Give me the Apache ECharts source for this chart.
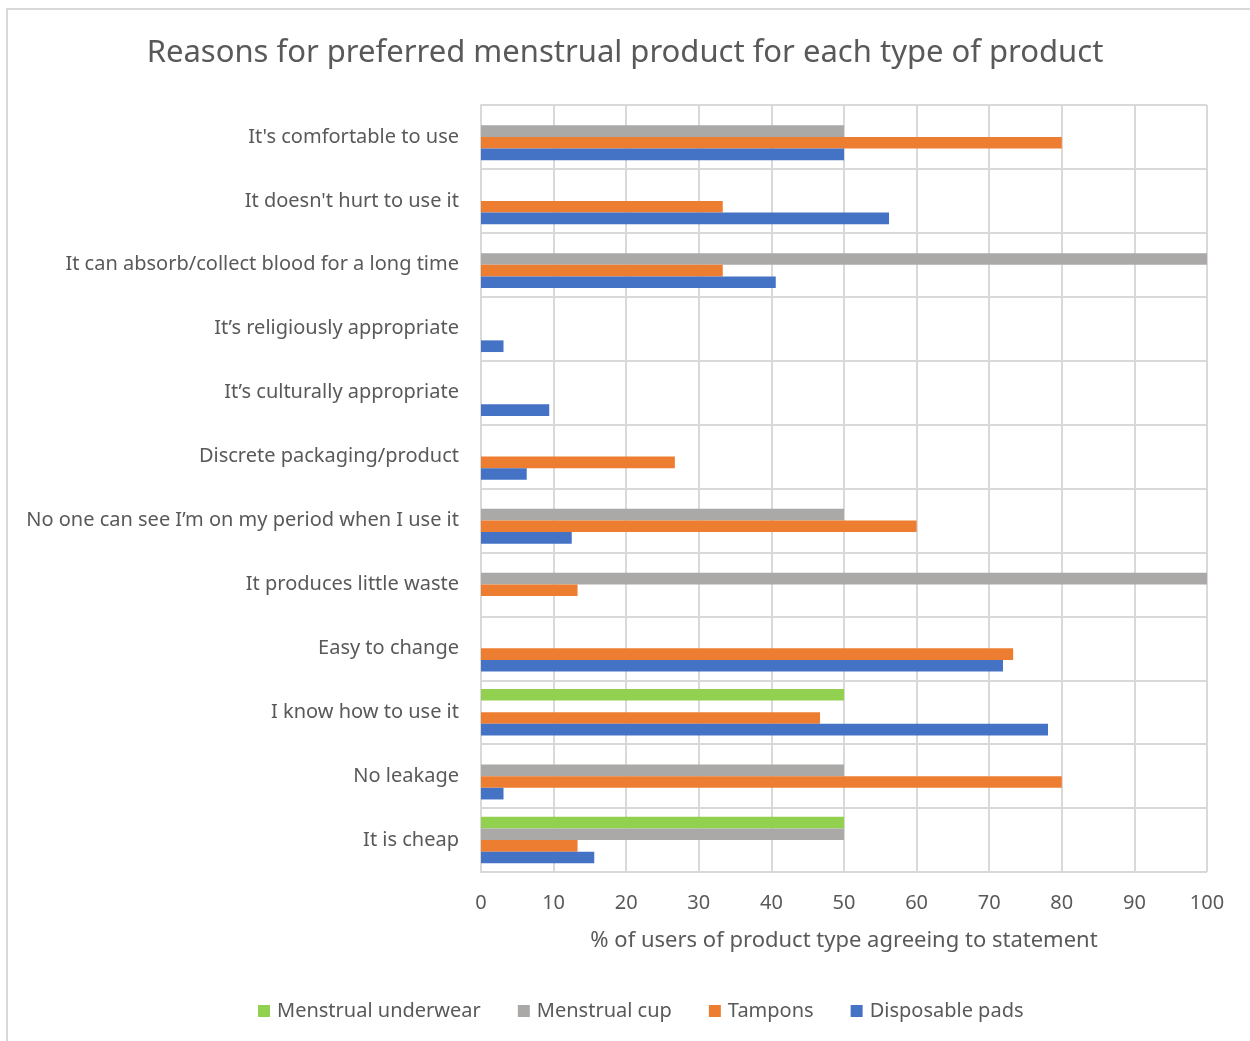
<!DOCTYPE html>
<html>
<head>
<meta charset="utf-8">
<script src="https://cdn.jsdelivr.net/npm/echarts@6/dist/echarts.min.js"></script>
<style>
  html, body { margin: 0; padding: 0; background: #fff; }
  #chart { width: 1250px; height: 1041px; }
</style>
</head>
<body>
<div id="chart"></div>
<script>
// categories bottom to top (ECharts category axis starts at the bottom)
const categories = [
  'It is cheap',
  'No leakage',
  'I know how to use it',
  'Easy to change',
  'It produces little waste',
  'No one can see I\u2019m on my period when I use it',
  'Discrete packaging/product',
  'It\u2019s culturally appropriate',
  'It\u2019s religiously appropriate',
  'It can absorb/collect blood for a long time',
  "It doesn't hurt to use it",
  "It's comfortable to use"
]

// % of users of product type agreeing, same order as categories
const pads      = [15.6, 3.1, 78.1, 71.9, null, 12.5, 6.3, 9.4, 3.1, 40.6, 56.2, 50]
const tampons   = [13.3, 80, 46.7, 73.3, 13.3, 60, 26.7, null, null, 33.3, 33.3, 80]
const cup       = [50, 50, null, null, 100, 50, null, null, null, 100, null, 50]
const underwear = [50, null, 50, null, null, null, null, null, null, null, null, null]

const xTicks = [0, 100, 10]

const textColor = '#595959'
const gridColor = '#d9d9d9'
const font = 'Noto Sans'

const chart = echarts.init(document.getElementById('chart'))

function bar(name, data, color) {
  return {
    name: name,
    type: 'bar',
    data: data,
    barGap: '0%',
    barCategoryGap: '27%',
    itemStyle: { color: color },
    emphasis: { disabled: true }
  }
}

chart.setOption({
  animation: false,
  textStyle: { fontFamily: font },
  title: {
    text: 'Reasons for preferred menstrual product for each type of product',
    left: 'center',
    top: 33,
    textStyle: { fontFamily: font, fontSize: 31, fontWeight: 'normal', color: textColor }
  },
  graphic: [{
    type: 'rect',
    shape: { x: 7, y: 9, width: 1260, height: 1060 },
    style: { fill: 'none', stroke: gridColor, lineWidth: 2 },
    silent: true
  }],
  legend: {
    data: ['Menstrual underwear', 'Menstrual cup', 'Tampons', 'Disposable pads'],
    left: 253,
    top: 996,
    icon: 'rect',
    itemWidth: 12,
    itemHeight: 12,
    itemGap: 37,
    textStyle: { fontFamily: font, fontSize: 20, color: textColor, padding: [0, 0, 0, 2] }
  },
  grid: { left: 481, right: 43, top: 105, bottom: 169 },
  xAxis: {
    type: 'value',
    min: xTicks[0],
    max: xTicks[1],
    interval: xTicks[2],
    name: '% of users of product type agreeing to statement',
    nameLocation: 'middle',
    nameGap: 58,
    nameTextStyle: { fontFamily: font, fontSize: 22, color: textColor },
    axisLine: { show: false },
    axisTick: { show: false },
    axisLabel: { fontSize: 20, color: textColor, margin: 21 },
    splitLine: { show: true, lineStyle: { color: gridColor, width: 2 } }
  },
  yAxis: {
    type: 'category',
    data: categories,
    axisLine: { show: true, lineStyle: { color: gridColor, width: 2 } },
    axisTick: { show: false },
    axisLabel: { fontSize: 20, color: textColor, margin: 22 },
    splitLine: { show: true, lineStyle: { color: gridColor, width: 2 } }
  },
  // first series sits at the top of each band
  series: [
    bar('Menstrual underwear', underwear, '#92D050'),
    bar('Menstrual cup', cup, '#ABA9A8'),
    bar('Tampons', tampons, '#ED7D31'),
    bar('Disposable pads', pads, '#4472C4')
  ]
})
</script>
</body>
</html>
